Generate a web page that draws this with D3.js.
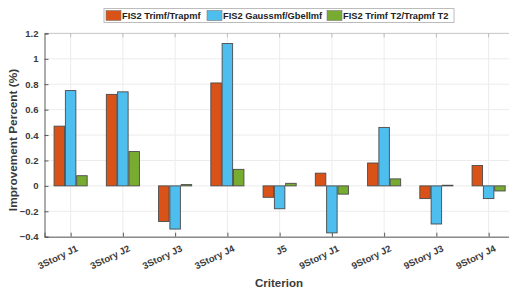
<!DOCTYPE html>
<html>
<head>
<meta charset="utf-8">
<script src="https://cdn.jsdelivr.net/npm/d3@7"></script>
<style>
  body { margin: 0; background: #fff; }
  svg { display: block; font-family: "Liberation Sans", Arial, sans-serif; }
</style>
</head>
<body>
<div id="chart"></div>
<script>
// criteria along x
var categories = ["3Story J1", "3Story J2", "3Story J3", "3Story J4", "J5",
                  "9Story J1", "9Story J2", "9Story J3", "9Story J4"];
var seriesNames = ["FIS2 Trimf/Trapmf", "FIS2 Gaussmf/Gbellmf", "FIS2 Trimf T2/Trapmf T2"];
// values
var trimfTrapmf   = [0.47, 0.72, -0.28, 0.81, -0.09, 0.10, 0.18, -0.10, 0.16];
var gaussGbell    = [0.75, 0.74, -0.34, 1.12, -0.18, -0.37, 0.46, -0.30, -0.10];
var trimfT2       = [0.08, 0.27, 0.01, 0.13, 0.02, -0.065, 0.055, 0.005, -0.04];
var yTicks = [-0.4, -0.2, 0, 0.2, 0.4, 0.6, 0.8, 1, 1.2];
var colors = ["#D95319", "#4DBEEE", "#77AC30"];

var allSeries = [trimfTrapmf, gaussGbell, trimfT2];

var W = 509, H = 290;
var plotLeft = 44.5, plotTop = 33.4, plotBottom = 236.7, step = 52.25;

var svg = d3.select("#chart").append("svg")
    .attr("width", W)
    .attr("height", H);

var x = d3.scaleLinear().domain([0.5, 9.5]).range([plotLeft, plotLeft + 9 * step]);
var y = d3.scaleLinear().domain([-0.4, 1.2]).range([plotBottom, plotTop]);

//grid
svg.append("g").selectAll("line")
    .data(yTicks)
  .enter().append("line")
    .attr("x1", plotLeft).attr("x2", x(9.5))
    .attr("y1", function(d){ return y(d); })
    .attr("y2", function(d){ return y(d); })
    .style("stroke", "#ececec").style("stroke-width", 1);
svg.append("g").selectAll("line")
    .data(categories)
  .enter().append("line")
    .attr("x1", function(d,i){ return x(i+1); })
    .attr("x2", function(d,i){ return x(i+1); })
    .attr("y1", plotTop).attr("y2", plotBottom)
    .style("stroke", "#ececec").style("stroke-width", 1);

// top border
svg.append("line")
    .attr("x1", plotLeft).attr("x2", x(9.5))
    .attr("y1", plotTop).attr("y2", plotTop)
    .style("stroke", "#c8c8c8");

// axes
var yAxis = d3.axisLeft(y).tickValues(yTicks).tickSize(-4).tickPadding(6)
    .tickFormat(function(d){ return d3.format("")(+d.toFixed(1)); });
var gy = svg.append("g")
    .attr("transform", "translate(" + plotLeft + ",0)")
    .call(yAxis);
var xAxis = d3.axisBottom(x).tickValues(d3.range(1, 10)).tickSize(-4).tickFormat("");
var gx = svg.append("g")
    .attr("transform", "translate(0," + plotBottom + ")")
    .call(xAxis);
[gx, gy].forEach(function(g){
  g.select(".domain").style("stroke", "#5a5a5a");
  g.selectAll(".tick line").style("stroke", "#5a5a5a");
});
gy.selectAll("text")
    .style("font-size", "9.5px").style("font-weight", "bold").style("fill", "#3a3a3a");

// top tick marks
svg.append("g").selectAll("line")
    .data(d3.range(1, 10))
  .enter().append("line")
    .attr("x1", function(d){ return x(d); }).attr("x2", function(d){ return x(d); })
    .attr("y1", plotTop).attr("y2", plotTop + 4)
    .style("stroke", "#bdbdbd");

// rotated category labels
svg.append("g").selectAll("text")
    .data(categories)
  .enter().append("text")
    .attr("transform", function(d,i){ return "translate(" + (x(i+1) + 5) + "," + (plotBottom + 8) + ") rotate(-26)"; })
    .attr("text-anchor", "end")
    .attr("dy", "0.7em")
    .style("font-size", "9.5px").style("font-weight", "bold").style("fill", "#3a3a3a")
    .text(function(d){ return d; });

// bars
var barW = 10.5, offset = 11.3;
allSeries.forEach(function(vals, s){
  svg.append("g").selectAll("rect")
      .data(vals)
    .enter().append("rect")
      .attr("x", function(d,i){ return x(i+1) + (s-1)*offset - barW/2; })
      .attr("y", function(d){ return y(Math.max(0, d)); })
      .attr("width", barW)
      .attr("height", function(d){ return Math.abs(y(d) - y(0)); })
      .style("fill", colors[s])
      .style("stroke", "#4a4a4a")
      .style("stroke-width", 0.9);
});

// axis titles
svg.append("text")
    .attr("transform", "translate(17,140) rotate(-90)")
    .attr("text-anchor", "middle")
    .style("font-size", "11.8px").style("font-weight", "bold").style("fill", "#3a3a3a")
    .text("Improvement Percent (%)");
svg.append("text")
    .attr("x", 279).attr("y", 286.5)
    .attr("text-anchor", "middle")
    .style("font-size", "11.5px").style("font-weight", "bold").style("fill", "#3a3a3a")
    .text("Criterion");

// legend
var legend = svg.append("g");
legend.append("rect")
    .attr("x", 104).attr("y", 8.5).attr("width", 350).attr("height", 14)
    .style("fill", "#fff").style("stroke", "#bcbcbc");
var legX = [106, 207, 327];
seriesNames.forEach(function(name, s){
  legend.append("rect")
      .attr("x", legX[s]).attr("y", 10.5).attr("width", 15).attr("height", 10)
      .style("fill", colors[s]).style("stroke", "#7a7a7a").style("stroke-width", 0.6);
  legend.append("text")
      .attr("x", legX[s] + 16).attr("y", 19)
      .style("font-size", "9.3px").style("font-weight", "bold").style("fill", "#222")
      .text(name);
});
</script>
</body>
</html>
